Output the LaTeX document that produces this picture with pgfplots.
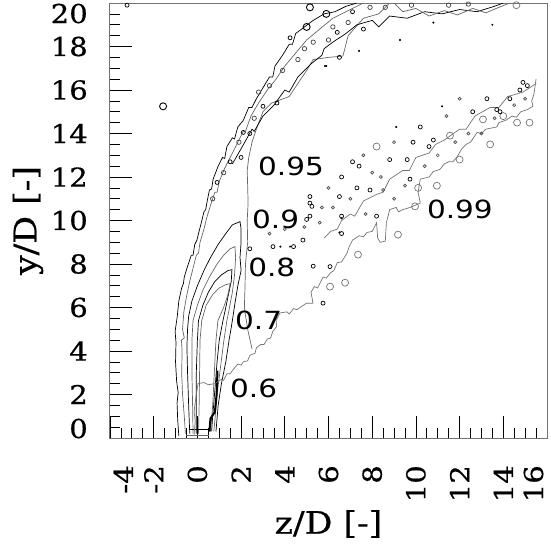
\documentclass[border=0pt]{standalone}
\usepackage{fontspec}
\setmainfont[FakeStretch=1.12, FakeBold=0.6]{DejaVu Serif}
\newfontfamily\lblfont[FakeStretch=1.18]{DejaVu Sans}
\usepackage{pgfplots}
\pgfplotsset{compat=1.18}

\begin{document}
\begin{tikzpicture}
\begin{axis}[
    scale only axis,
    width=437pt, height=435pt,
    xmin=-4, xmax=16, ymin=0, ymax=20,
    xtick={-4,-2,...,16}, ytick={0,2,...,20},
    xticklabels={{\raisebox{-23pt}[0pt][0pt]{-4}},-2,0,2,4,6,8,10,12,14,{\raisebox{4pt}[0pt][0pt]{16}}},
    yticklabels={{\smash{0}},2,4,6,8,10,12,14,16,18,{\raisebox{-20pt}[0pt][0pt]{20}}},
    minor tick num=3,
    tick align=inside, xtick pos=bottom, ytick pos=left,
    major tick length=22pt, minor tick length=10pt,
    axis line style={black!55, line width=1pt},
    every tick/.style={black, line width=0.7pt},
    tick label style={font=\fontsize{26}{26}\selectfont, inner sep=0pt},
    xticklabel style={rotate=90, anchor=east},
    xticklabel shift=27pt, yticklabel shift=22pt,
    xlabel={z/D [-]}, ylabel={y/D [-]},
    label style={font=\fontsize{31}{31}\selectfont},
    xlabel style={at={([yshift=-86pt]axis description cs:0.5,0)}, anchor=center},
    ylabel style={at={([xshift=-82pt]axis description cs:0,0.5)}, anchor=center},
]

% 0.99 outer left boundary
\addplot[black, line width=0.7pt] coordinates {
(-0.85,0.1) (-0.9,0.8) (-0.93,1.6) (-0.88,2.1) (-0.95,2.6) (-1.0,3.5) (-0.98,4.4)
(-1.02,4.9) (-0.92,5.6) (-0.85,6.3) (-0.72,6.9) (-0.64,7.1) (-0.6,7.4) (-0.45,7.9)
(-0.28,8.4) (-0.2,8.4) (-0.12,8.9) (-0.02,9.1) (0.05,9.4) (0.18,9.9) (0.3,10.4) (0.38,10.5)
(0.45,10.9) (0.55,11.4) (0.65,11.45) (0.72,11.9) (0.95,12.5) (1.15,12.9) (1.25,12.85) (1.35,13.4)
(1.6,13.8) (1.7,13.75) (1.85,14.3) (2.1,14.6) (2.35,15.2) (2.5,15.2) (2.7,15.6) (3.0,16.1) (3.3,16.6)
(3.45,16.6) (3.55,17.1) (3.9,17.6) (4.2,18.1) (4.35,18.1) (4.5,18.6) (4.9,18.9) (5.3,19.2) (5.8,19.5)
(6.3,19.6) (6.8,19.85) (7.3,20)};

% 0.95 left edge
\addplot[black!60, line width=0.7pt] coordinates {
(-0.55,0.2) (-0.6,1.0) (-0.68,2.0) (-0.72,3.0) (-0.7,4.0) (-0.73,4.5) (-0.6,4.6)
(-0.68,5.0) (-0.62,5.8) (-0.5,6.5) (-0.35,7.2) (-0.2,7.8) (-0.05,8.4) (0.05,8.5) (0.12,9.0)
(0.3,9.6) (0.42,10.1) (0.6,10.7) (0.8,11.3) (0.9,11.3) (1.0,11.8) (1.25,12.4) (1.5,12.9)
(1.8,13.5) (2.1,14.1) (2.2,14.1) (2.45,14.8) (2.8,15.4) (3.2,16.0) (3.6,16.5) (4.0,17.1)
(4.5,17.7) (5.0,18.3) (5.6,18.8) (6.2,19.3) (6.8,19.6) (7.6,20)};

% 0.95 right edge and upper band
\addplot[black!60, line width=0.7pt] coordinates {
(2.5,4.1) (2.3,5.0) (2.15,6.0) (2.18,7.0) (2.2,8.0) (2.3,9.0) (2.28,10.0)
(2.32,10.8) (2.3,11.6) (2.28,12.3) (2.35,12.9) (2.5,13.6) (2.7,14.2) (3.0,15.0)
(3.4,15.4) (4.2,15.7) (4.6,16.3) (5.0,16.9) (5.3,17.4) (6.0,17.5) (6.66,17.56)
(6.9,18.5) (7.6,19.3) (8.3,19.5) (8.8,20)};
\addplot[black, line width=0.7pt] coordinates {
(1.6,12.6) (2.0,13.3) (2.5,14.2) (2.6,14.1) (3.0,14.8) (3.5,15.3) (4.0,16.0) (4.2,15.9) (4.6,16.6)
(5.2,17.2) (5.7,17.6) (5.8,17.9) (6.2,18.2) (6.8,18.6) (7.3,19.0) (8.0,19.2) (8.3,18.9) (8.8,19.4)
(9.6,19.3) (10.4,19.6) (11.2,19.5) (12.0,19.7) (12.8,19.6) (13.6,19.85) (14.0,20)};
\addplot[black!60, line width=0.7pt] coordinates {
(9.0,20) (9.4,19.6) (10.0,19.75) (10.6,19.4) (11.3,19.65) (11.9,19.45) (12.6,19.75) (13.2,19.55) (13.8,19.8) (14.3,20)};

% 0.9
\addplot[black, line width=0.7pt] coordinates {
(-0.35,0.2) (-0.4,1.5) (-0.45,3) (-0.48,4.2) (-0.45,5.0) (-0.4,5.6) (-0.25,6.3)
(0.0,7.0) (0.3,7.7) (0.6,8.3) (0.95,8.9) (1.3,9.4) (1.6,9.8) (1.95,9.95)
(2.0,9.6) (2.0,9.0) (1.95,8.3) (2.0,7.7) (1.85,7.0) (1.72,6.2) (1.6,5.4)
(1.45,4.5) (1.3,3.5) (1.1,2.5) (0.95,1.5) (0.85,0.3)};

% 0.8
\addplot[black!60, line width=0.7pt] coordinates {
(-0.2,0.2) (-0.22,1.5) (-0.25,3) (-0.25,4.5) (-0.2,5.4) (0.0,6.1) (0.25,6.8)
(0.55,7.4) (0.9,8.0) (1.2,8.4) (1.5,8.7) (1.72,8.8) (1.75,8.3) (1.7,7.5)
(1.6,6.7) (1.45,5.9) (1.35,5.4) (1.2,4.4) (1.05,3.2) (0.9,2.0) (0.8,0.8) (0.75,0.3)};

% 0.7
\addplot[black, line width=0.7pt] coordinates {
(-0.05,0.2) (-0.05,1.5) (-0.05,3) (0.0,4.5) (0.05,5.4) (0.25,6.1) (0.5,6.7)
(0.8,7.2) (1.1,7.5) (1.4,7.7) (1.58,7.74) (1.55,7.2) (1.4,6.5) (1.3,6.0)
(1.17,5.4) (1.0,4.5) (0.9,3.5) (0.8,2.2) (0.7,1.0) (0.65,0.3)};

% 0.6
\addplot[black!60, line width=0.7pt] coordinates {
(0.05,0.2) (0.08,1.5) (0.1,3) (0.12,4.5) (0.2,5.4) (0.4,6.1) (0.7,6.6)
(1.0,6.9) (1.3,7.05) (1.5,7.1) (1.4,6.6) (1.2,6.0) (0.94,5.4) (0.85,4.5)
(0.8,3.5) (0.75,2.5) (0.7,1.5) (0.6,0.3)};

% thick core segment and jet exit
\addplot[black, line width=2pt] coordinates {(0.55,0.3) (0.6,0.9) (0.8,1.2) (0.88,2.0) (0.92,3.1)};
\addplot[black!60, line width=0.7pt] coordinates {(-0.5,0.12) (0.55,0.12)};
\addplot[black, line width=0.7pt] coordinates {(-0.4,0.38) (0.5,0.38)};

% 0.99 lower (wake) boundary
\addplot[black!55, line width=0.7pt] coordinates {
(-0.15,0.15) (-0.1,0.8) (-0.15,1.2) (-0.12,1.5) (-0.05,2.0) (0.03,2.5) (0.3,2.55) (0.5,2.45)
(0.8,2.5) (1.1,2.7) (1.2,2.65) (1.35,2.95) (1.5,2.95) (1.6,3.1) (1.85,3.4) (2.0,3.35)
(2.1,3.5) (2.3,3.55) (2.4,3.8) (2.64,3.9) (2.7,4.15) (2.9,4.3) (3.05,4.3) (3.2,4.55)
(3.35,4.6) (3.45,4.9) (3.63,5.13) (3.6,5.4) (3.78,5.75) (4.1,5.8) (4.2,5.7) (4.4,5.95)
(4.55,5.9) (4.7,6.0) (5.0,6.2) (5.29,6.2) (5.2,6.7) (5.35,6.96) (5.5,6.9) (5.75,7.4)
(5.9,7.35) (6.1,7.6) (6.25,7.7) (6.4,8.06) (6.6,8.1) (6.85,8.5) (6.95,8.8) (7.1,9.1)
(7.4,9.3) (7.6,9.25) (7.76,9.45) (8.0,9.5) (8.2,9.9) (8.25,9.2) (8.36,9.0) (8.6,9.05)
(8.65,9.9) (8.8,10.5) (9.1,10.6) (9.2,10.4) (9.4,10.5) (9.73,10.6) (10.2,10.8)
(10.1,11.3) (10.2,11.9) (10.6,12.0) (10.8,12.25) (11.1,12.35) (11.3,12.6) (11.5,12.7)
(11.7,12.7) (11.9,12.95) (12.1,13.3) (12.3,13.5) (12.5,13.6) (12.8,14.05) (13.0,14.0)
(13.2,14.2) (13.7,14.3) (13.8,14.5) (14.1,14.6) (14.4,14.8) (14.6,14.75) (14.8,15.0)
(15.1,15.1) (15.36,15.25) (15.3,15.5) (15.4,15.8) (15.5,16.5)};
\addplot[black!55, line width=0.7pt] coordinates {
(5.8,9.2) (6.1,9.5) (6.4,9.6) (6.6,10.0) (7.0,10.3) (7.2,10.2) (7.6,10.9) (8.2,11.2) (8.5,11.3)
(8.8,11.9) (9.4,12.3) (9.7,12.3) (10.0,12.9) (10.6,13.1) (10.9,13.5) (11.3,13.7) (12.0,14.2)
(12.3,14.2) (12.7,14.8) (13.4,15.2) (13.8,15.2) (14.2,15.7) (14.9,15.9) (15.5,16.3)};

% small closed contours
\addplot[only marks, mark=o, mark size=3.5pt, black!55, mark options={line width=0.7pt}] coordinates {
(7.35,8.43) (6.76,7.14) (6.07,6.96) (9.18,9.35) (9.96,10.65) (10.96,11.6)
(10.1,11.5) (12.0,12.8) (13.4,13.5) (15.2,14.5) (14.63,14.5) (14.0,14.8)
(13.07,14.65) (11.56,13.9) (8.2,13.4) (14.6,19.9)};
\addplot[only marks, mark=o, mark size=3.5pt, black, mark options={line width=0.9pt}] coordinates {
(5.15,19.8) (5.9,19.5) (5.0,18.9) (-1.57,15.25)};
\addplot[only marks, mark=o, mark size=2pt, black, mark options={line width=0.7pt}] coordinates {
(5.75,6.2) (8.2,10.2) (5.15,10.2) (5.15,10.8) (7.3,11.5) (7.9,11.4) (9.73,11.9)
(13.7,15.1) (14.76,16.0) (14.9,16.35) (13.25,15.6) (12.6,15.0) (10.8,13.7)
(10.2,14.3) (8.8,12.8) (7.1,12.7) (7.4,12.5) (10.6,13.4) (9.6,12.8) (5.15,11.1)
(5.24,10.65) (5.0,10.05) (6.6,12.0) (6.5,11.1) (6.6,10.2) (6.6,9.4) (3.46,8.8)
(2.4,8.7) (4.4,8.8) (9.87,13.6) (13.85,15.0) (15.1,16.2) (14.3,15.6) (4.24,18.4)
(6.4,18.65) (6.5,17.5) (3.64,15.4) (3.0,15.25) (7.6,18.8) (7.1,19.6) (1.5,12.7)
(2.0,12.9) (0.9,11.75) (2.4,14.0) (2.1,14.05) (-3.22,19.9) (6.07,7.88) (5.3,7.9)
(4.83,9.1)};
\addplot[only marks, mark=o, mark size=2.2pt, black!75, mark options={line width=0.7pt}] coordinates {
(2.8,15.9) (3.3,16.2) (3.9,16.9) (4.6,17.4) (5.3,18.2) (6.0,18.3) (6.9,19.1)
(7.9,19.8) (8.6,19.8) (9.8,19.9) (11.5,19.9) (12.4,19.95) (2.6,14.7) (1.9,13.6)
(1.2,12.2) (0.7,11.0) (4.9,17.9) (6.2,18.9)};
\addplot[only marks, mark=o, mark size=1.5pt, black!70, mark options={line width=0.7pt}] coordinates {
(4.9,9.7) (5.6,9.9) (6.2,10.6) (7.0,11.0) (7.7,10.3) (8.5,11.4) (9.0,11.0)
(9.5,11.6) (10.4,12.5) (11.0,13.0) (11.8,13.6) (12.4,14.0) (13.0,14.0) (13.6,14.7)
(14.5,15.3) (15.0,15.6) (8.0,12.2) (7.6,13.0) (6.0,11.5) (5.7,10.6) (4.0,9.6)
(3.3,9.4) (12.0,15.6) (11.4,14.8) (9.0,13.6) (8.4,12.0)};
\addplot[only marks, mark=*, mark size=0.8pt, black] coordinates {
(4.24,8.8) (3.8,8.8) (6.5,9.45) (6.6,10.1) (5.9,17.1) (9.27,18.3) (13.5,19.0)
(10.8,19.1) (7.4,17.8) (9.1,14.3) (11.2,15.25) (5.84,17.1)};

% contour labels
\begin{scope}[every node/.style={font=\lblfont\fontsize{25}{25}\selectfont, anchor=west, inner sep=0pt}]
\node at (axis cs:1.49,2.3) {0.6};
\node at (axis cs:1.72,5.4) {0.7};
\node at (axis cs:2.32,7.83) {0.8};
\node at (axis cs:2.5,10.05) {0.9};
\node at (axis cs:2.77,12.5) {0.95};
\node at (axis cs:10.5,10.5) {0.99};
\end{scope}
\end{axis}
\pgfresetboundingbox
\path (-110pt,-114pt) rectangle (440pt,438pt);
\end{tikzpicture}
\end{document}
